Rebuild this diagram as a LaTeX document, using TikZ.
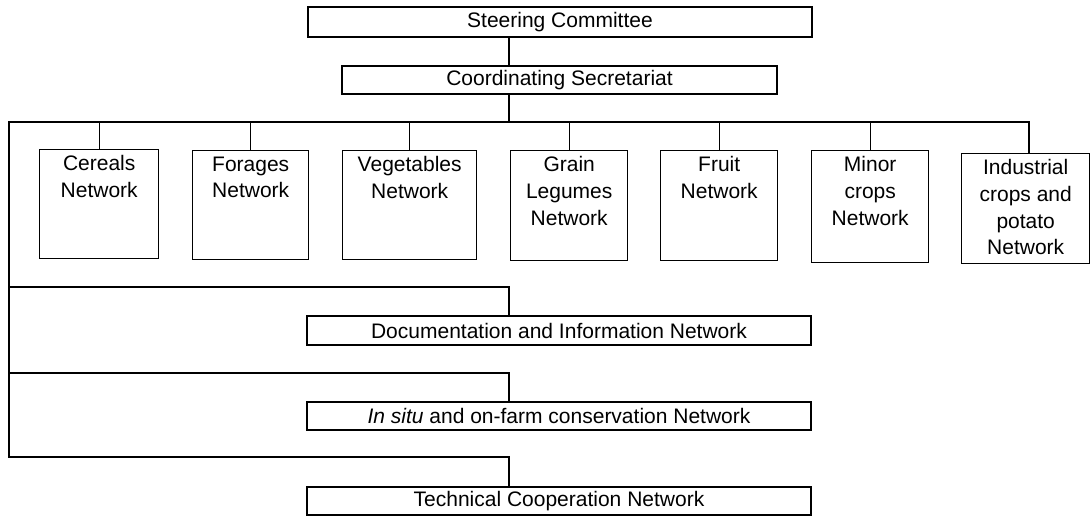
\documentclass[tikz,border=0pt]{standalone}
\usepackage{fontspec}
\setmainfont{Liberation Sans}
\usepackage{tikz}
\usetikzlibrary{positioning, calc}
\newcommand{\toplines}[3]{\parbox[t][#2][t]{#1}{\vspace*{3pt}\centering #3}}

\begin{document}
\begin{tikzpicture}[
    x=0.5pt, y=-0.5pt,
    box/.style={draw, line width=0.7pt, inner sep=0pt, font=\fontsize{10.5}{13.3}\selectfont},
    netbox/.style={box, anchor=north west},
    wide/.style={box, minimum width=252pt, minimum height=14pt},
    link/.style={line width=0.7pt, line join=miter}
]
    \useasboundingbox (0,0) rectangle (1091,517);
    \node[wide, minimum height=15pt] (steer) at (560,22) {Steering Committee};
    \node[box, minimum width=217.5pt, minimum height=14pt] (coord) at (559.5,80) {Coordinating Secretariat};

    \node[netbox] (cereals) at (39,149) {\toplines{59.5pt}{54.5pt}{Cereals\\Network}};
    \node[netbox] (forages) at (192,150) {\toplines{58pt}{54.5pt}{Forages\\Network}};
    \node[netbox] (vegetables) at (342,150) {\toplines{67pt}{54.5pt}{Vegetables\\Network}};
    \node[netbox] (legumes) at (510,150) {\toplines{58.5pt}{55pt}{Grain\\Legumes\\Network}};
    \node[netbox] (fruit) at (660,150) {\toplines{58.5pt}{55pt}{Fruit\\Network}};
    \node[netbox] (minor) at (811,150) {\toplines{58.5pt}{56pt}{Minor\\crops\\Network}};
    \node[netbox] (industrial) at (961,153) {\toplines{64pt}{55pt}{Industrial\\crops and\\potato\\Network}};

    \node[wide, minimum height=14.5pt] (doc) at (559,330.5) {Documentation and Information Network};
    \node[wide] (situ) at (559,416) {\textit{In situ} and on-farm conservation Network};
    \node[wide] (tech) at (559,501) {Technical Cooperation Network};

    \coordinate (mid) at (509,122);
    \coordinate (busL) at (9,122);
    \coordinate (busR) at (1029,122);
    \coordinate (docL) at (9,287);
    \coordinate (situL) at (9,373);
    \coordinate (techL) at (9,457);

    \draw[link] (steer.south -| mid) -- (coord.north -| mid);
    \draw[link] (coord.south -| mid) -- (mid);
    \draw[link] (busR |- industrial.north) -- (busR) -- (busL) -- (techL) -- (techL -| mid) -- (tech.north -| mid);
    \foreach \n in {cereals, forages, vegetables, legumes, fruit, minor}
        \draw[link] (\n.north |- busL) -- (\n.north);
    \draw[link] (docL) -- (docL -| mid) -- (doc.north -| mid);
    \draw[link] (situL) -- (situL -| mid) -- (situ.north -| mid);
\end{tikzpicture}
\end{document}
